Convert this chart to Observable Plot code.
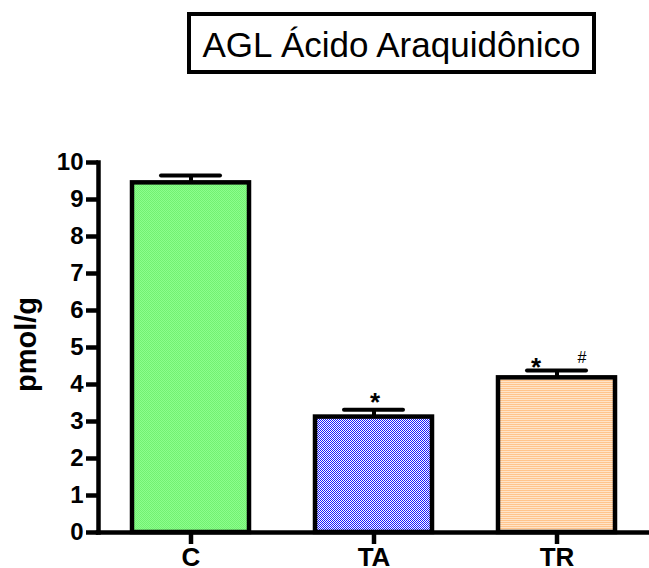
<!DOCTYPE html>
<html>
<head>
<meta charset="utf-8">
<script src="https://cdn.jsdelivr.net/npm/d3@7"></script>
<script src="https://cdn.jsdelivr.net/npm/@observablehq/plot@0.6"></script>
<style>
  html, body { margin: 0; padding: 0; background: white; }
  #wrap { position: relative; width: 649px; height: 568px; overflow: hidden; font-family: "Liberation Sans", Arial, sans-serif; }
  #title { position: absolute; left: 187px; top: 12px; width: 409px; height: 62px; box-sizing: border-box;
           border: 4.5px solid black; font-size: 35px; text-align: center; line-height: 57px; color: black; background: white; white-space: nowrap; }
  #chart { position: absolute; left: 0; top: 0; }
</style>
</head>
<body>
<div id="wrap">
  <div id="chart"></div>
  <div id="title">AGL Ácido Araquidônico</div>
</div>
<script>
const categories = ["C", "TA", "TR"];
const means = [9.45, 3.12, 4.18];
const sems = [0.2, 0.2, 0.2];
const yTicks = [0, 1, 2, 3, 4, 5, 6, 7, 8, 9, 10];
const yLabel = "pmol/g";
const annotCats = ["TA", "TR", "TR"];
const annotText = ["*", "*", "#"];
const annotY = [3.5, 4.46, 4.72];

const fills = ["url(#patC)", "url(#patTA)", "url(#patTR)"];
const annotDx = [1, -21, 25];
const annotSize = [26, 26, 16];
const annotWeight = ["bold", "bold", "normal"];

const rows = categories.map((c, i) => ({cat: c, mean: means[i], sem: sems[i]}));
const annots = annotCats.map((c, i) => ({cat: c, label: annotText[i], y: annotY[i], dx: annotDx[i], size: annotSize[i], weight: annotWeight[i]}));

const SW = 4.5;
const plot = Plot.plot({
  width: 649,
  height: 568,
  marginLeft: 98,
  marginRight: 0,
  marginTop: 162,
  marginBottom: 36,
  style: {fontFamily: "'Liberation Sans', Arial, sans-serif", color: "black", background: "white", overflow: "visible"},
  x: {domain: categories, paddingInner: 0.36, paddingOuter: 0.18, label: null},
  y: {domain: [0, 10], label: null},
  color: {domain: categories, range: fills},
  marks: [
    Plot.barY(rows, {x: "cat", y: "mean", fill: "cat", stroke: "black", strokeWidth: SW}),
    Plot.ruleX(rows, {x: "cat", y1: "mean", y2: d => d.mean + d.sem, stroke: "black", strokeWidth: 4}),
    Plot.tickY(rows, {x: "cat", y: d => d.mean + d.sem, insetLeft: 29, insetRight: 29, stroke: "black", strokeWidth: 4, strokeLinecap: "round"}),
    ...annots.map(a => Plot.text([a], {x: "cat", y: "y", text: "label", dx: a.dx, fontSize: a.size, fontWeight: a.weight, fill: "black"})),
    Plot.axisY({ticks: yTicks, tickSize: 12, tickPadding: 3, fontSize: 24, fontWeight: "bold", strokeWidth: SW, label: null}),
    Plot.axisX({tickSize: 12, tickPadding: 3, fontSize: 26, fontWeight: "bold", strokeWidth: SW, label: null}),
    Plot.ruleY([0], {stroke: "black", strokeWidth: SW, strokeLinecap: "square"}),
    Plot.frame({anchor: "left", stroke: "black", strokeWidth: SW, strokeLinecap: "square"}),
    Plot.text([yLabel], {frameAnchor: "left", textAnchor: "middle", rotate: -90, dx: -72, dy: -3, fontSize: 29, fontWeight: "bold", fill: "black"})
  ]
});

const svg = d3.select(plot);
const defs = svg.insert("defs", ":first-child");
// C: light green with fine dither
const pC = defs.append("pattern").attr("id", "patC").attr("patternUnits", "userSpaceOnUse").attr("width", 2).attr("height", 2);
pC.append("rect").attr("width", 2).attr("height", 2).attr("fill", "#8cff8c");
pC.append("rect").attr("width", 1).attr("height", 1).attr("fill", "#72f072");
pC.append("rect").attr("x", 1).attr("y", 1).attr("width", 1).attr("height", 1).attr("fill", "#72f072");
// TA: blue/white checker
const pTA = defs.append("pattern").attr("id", "patTA").attr("patternUnits", "userSpaceOnUse").attr("width", 2).attr("height", 2);
pTA.append("rect").attr("width", 2).attr("height", 2).attr("fill", "#ffffff");
pTA.append("rect").attr("width", 1).attr("height", 1).attr("fill", "#1a1aff");
pTA.append("rect").attr("x", 1).attr("y", 1).attr("width", 1).attr("height", 1).attr("fill", "#1a1aff");
// TR: peach horizontal stripes
const pTR = defs.append("pattern").attr("id", "patTR").attr("patternUnits", "userSpaceOnUse").attr("width", 2).attr("height", 2);
pTR.append("rect").attr("width", 2).attr("height", 2).attr("fill", "#ffe4c8");
pTR.append("rect").attr("width", 2).attr("height", 1).attr("fill", "#ffc48c");

document.getElementById("chart").appendChild(plot);
</script>
</body>
</html>
